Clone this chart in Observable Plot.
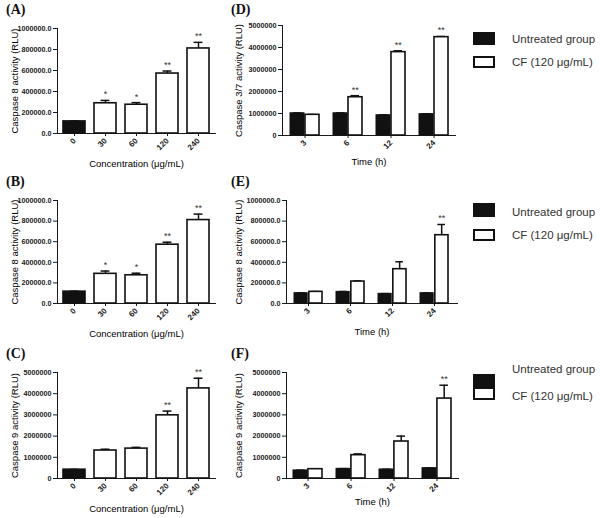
<!DOCTYPE html>
<html>
<head>
<meta charset="utf-8">
<script src="https://cdn.jsdelivr.net/npm/d3@7"></script>
<script src="https://cdn.jsdelivr.net/npm/@observablehq/plot@0.6"></script>
<style>
  body { margin: 0; background: #fff; }
  #root { position: relative; width: 600px; height: 518px; background: #fff; overflow: hidden; }
  .panel { position: absolute; }
  .plabel { position: absolute; font-family: "Liberation Serif", "Times New Roman", serif; font-weight: bold; font-size: 14px; color: #111; line-height: 1; }
  .lg-sw { position: absolute; box-sizing: border-box; }
  .lg-tx { position: absolute; font-family: "Liberation Sans", Arial, sans-serif; font-size: 11.5px; color: #333; line-height: 1; white-space: nowrap; }
</style>
</head>
<body>
<div id="root"></div>
<script>
// ---------------- data ----------------
const concLabels = ["0", "30", "60", "120", "240"];
const timeLabels = ["3", "6", "12", "24"];
const legendLabels = ["Untreated group", "CF (120 μg/mL)"];

const ticks1M = [0, 200000, 400000, 600000, 800000, 1000000];
const ticks5M = [0, 1000000, 2000000, 3000000, 4000000, 5000000];

// (A) and (B): caspase 8 vs concentration
const casp8ConcMean = [115000, 288000, 274000, 571000, 810000];
const casp8ConcErr  = [4000, 27000, 20000, 24000, 58000];
const casp8ConcSig  = ["", "*", "*", "**", "**"];

// (C): caspase 9 vs concentration
const casp9ConcMean = [415000, 1320000, 1410000, 2980000, 4250000];
const casp9ConcErr  = [15000, 60000, 60000, 200000, 480000];
const casp9ConcSig  = ["", "", "", "**", "**"];

// (D): caspase 3/7 vs time
const casp37Untreated    = [1010000, 1010000, 920000, 970000];
const casp37UntreatedErr = [15000, 15000, 20000, 15000];
const casp37CF           = [940000, 1740000, 3790000, 4470000];
const casp37CFErr        = [15000, 70000, 60000, 30000];
const casp37Sig          = ["", "**", "**", "**"];

// (E): caspase 8 vs time
const casp8TimeUntreated    = [100000, 113000, 94000, 100000];
const casp8TimeUntreatedErr = [3000, 3000, 2000, 2000];
const casp8TimeCF           = [113000, 213000, 333000, 663000];
const casp8TimeCFErr        = [3000, 6000, 72000, 104000];
const casp8TimeSig          = ["", "", "", "**"];

// (F): caspase 9 vs time
const casp9TimeUntreated    = [380000, 456000, 425000, 487000];
const casp9TimeUntreatedErr = [10000, 10000, 10000, 10000];
const casp9TimeCF           = [440000, 1100000, 1745000, 3770000];
const casp9TimeCFErr        = [10000, 60000, 255000, 630000];
const casp9TimeSig          = ["", "", "", "**"];

// ---------------- helpers ----------------
const root = document.getElementById("root");
const FONT = "'Liberation Sans', Arial, Helvetica, sans-serif";
const INK = "#111";

function place(el, left, top) {
  // slightly larger rotated category tick labels
  el.querySelectorAll('[aria-label^="x-axis"] text').forEach(t => { t.style.fontSize = "8px"; });
  const wrap = document.createElement("div");
  wrap.className = "panel";
  wrap.style.left = left + "px";
  wrap.style.top = top + "px";
  wrap.appendChild(el);
  root.appendChild(wrap);
}

function baseStyle() {
  return {fontFamily: FONT, fontSize: "7.2px", fontWeight: "bold", color: "#1a1a1a", background: "transparent", overflow: "visible"};
}

function titles(o) {
  return [
    Plot.text([o.yTitle], {text: d => d, frameAnchor: "left", rotate: -90, dx: o.ydx, textAnchor: "middle", lineAnchor: "middle", fontSize: 9.5, fontWeight: "normal", fill: "#000"}),
    Plot.text([o.xTitle], {text: d => d, frameAnchor: "bottom", dy: o.xdy, textAnchor: "middle", lineAnchor: "middle", fontSize: 9.5, fontWeight: "normal", fill: "#000"})
  ];
}

function concPanel(o) {
  const rows = concLabels.map((c, i) => ({c, v: o.mean[i], e: o.err[i], s: o.sig[i], top: o.mean[i] + o.err[i]}));
  const pi = 0.3;
  const step = (o.width - o.mL - o.mR) / concLabels.length;
  const bw = step * (1 - pi);
  const cap = (bw - 9) / 2;
  return Plot.plot({
    width: o.width, height: o.height,
    marginLeft: o.mL, marginRight: o.mR, marginTop: o.mT, marginBottom: o.mB,
    style: baseStyle(),
    x: {domain: concLabels, paddingInner: pi, paddingOuter: pi / 2, label: null, tickRotate: -45, tickSize: 3, tickPadding: 3, line: true},
    y: {domain: [0, o.yMax], ticks: o.ticks, tickFormat: o.fmt, label: null, tickSize: 4, tickPadding: 2, line: true},
    marks: [
      Plot.ruleX(rows, {x: "c", y1: "v", y2: "top", stroke: INK, strokeWidth: 1.5}),
      Plot.tickY(rows, {x: "c", y: "top", stroke: INK, strokeWidth: 1.5, insetLeft: cap, insetRight: cap}),
      Plot.barY(rows, {x: "c", y: "v", fill: d => d.c === concLabels[0] ? INK : "white", stroke: INK, strokeWidth: 1.6}),
      Plot.text(rows.filter(d => d.s), {x: "c", y: "top", text: "s", dy: -6, fontSize: 9, fontWeight: "normal", fill: "#333"}),
      ...titles(o)
    ]
  });
}

function timePanel(o) {
  const rows = timeLabels.map((t, i) => ({
    t, u: o.u[i], ue: o.ue[i], utop: o.u[i] + o.ue[i],
    c: o.c[i], ce: o.ce[i], ctop: o.c[i] + o.ce[i], s: o.sig[i]
  }));
  const pi = 0.33;
  const step = (o.width - o.mL - o.mR) / timeLabels.length;
  const bw = step * (1 - pi);
  const half = bw / 2;
  const off = half / 2;
  return Plot.plot({
    width: o.width, height: o.height,
    marginLeft: o.mL, marginRight: o.mR, marginTop: o.mT, marginBottom: o.mB,
    style: baseStyle(),
    x: {domain: timeLabels, paddingInner: pi, paddingOuter: pi / 2, label: null, tickRotate: -45, tickSize: 3, tickPadding: 3, line: true},
    y: {domain: [0, o.yMax], ticks: o.ticks, tickFormat: o.fmt, label: null, tickSize: 4, tickPadding: 2, line: true},
    marks: [
      // untreated (black, left half of each group)
      Plot.ruleX(rows, {x: "t", y1: "u", y2: "utop", dx: -off, stroke: INK, strokeWidth: 1.5}),
      Plot.tickY(rows, {x: "t", y: "utop", stroke: INK, strokeWidth: 1.5, insetLeft: 3, insetRight: half + 3}),
      Plot.barY(rows, {x: "t", y: "u", fill: INK, stroke: INK, strokeWidth: 1, insetRight: half + 0.5}),
      // CF (white, right half)
      Plot.ruleX(rows, {x: "t", y1: "c", y2: "ctop", dx: off, stroke: INK, strokeWidth: 1.5}),
      Plot.tickY(rows, {x: "t", y: "ctop", stroke: INK, strokeWidth: 1.5, insetLeft: half + 3, insetRight: 3}),
      Plot.barY(rows, {x: "t", y: "c", fill: "white", stroke: INK, strokeWidth: 1.6, insetLeft: half + 0.5}),
      Plot.text(rows.filter(d => d.s), {x: "t", y: "ctop", text: "s", dx: off, dy: -6, fontSize: 9, fontWeight: "normal", fill: "#333"}),
      ...titles(o)
    ]
  });
}

const fmt1 = d => d.toFixed(1);
const fmt0 = d => String(d);

// ---------------- panels ----------------
place(concPanel({mean: casp8ConcMean, err: casp8ConcErr, sig: casp8ConcSig, yMax: 1000000, ticks: ticks1M, fmt: fmt1,
  yTitle: "Caspase 8 activity (RLU)", xTitle: "Concentration (μg/mL)",
  width: 230, height: 170, mL: 57, mR: 15, mT: 28, mB: 37, ydx: -43, xdy: 30}), 0, 0);

place(concPanel({mean: casp8ConcMean, err: casp8ConcErr, sig: casp8ConcSig, yMax: 1000000, ticks: ticks1M, fmt: fmt1,
  yTitle: "Caspase 8 activity (RLU)", xTitle: "Concentration (μg/mL)",
  width: 230, height: 170, mL: 57, mR: 15, mT: 30, mB: 37, ydx: -43, xdy: 30}), 0, 170);

place(concPanel({mean: casp9ConcMean, err: casp9ConcErr, sig: casp9ConcSig, yMax: 5000000, ticks: ticks5M, fmt: fmt0,
  yTitle: "Caspase 9 activity (RLU)", xTitle: "Concentration (μg/mL)",
  width: 230, height: 173, mL: 57, mR: 15, mT: 27, mB: 40, ydx: -43, xdy: 30}), 0, 345);

place(timePanel({u: casp37Untreated, ue: casp37UntreatedErr, c: casp37CF, ce: casp37CFErr, sig: casp37Sig,
  yMax: 5000000, ticks: ticks5M, fmt: fmt0,
  yTitle: "Caspase 3/7 activity (RLU)", xTitle: "Time (h)",
  width: 240, height: 170, mL: 57, mR: 10, mT: 25, mB: 35, ydx: -44, xdy: 26}), 225, 0);

place(timePanel({u: casp8TimeUntreated, ue: casp8TimeUntreatedErr, c: casp8TimeCF, ce: casp8TimeCFErr, sig: casp8TimeSig,
  yMax: 1000000, ticks: ticks1M, fmt: fmt1,
  yTitle: "Caspase 8 activity (RLU)", xTitle: "Time (h)",
  width: 240, height: 170, mL: 61, mR: 8, mT: 30, mB: 37, ydx: -48, xdy: 28}), 225, 170);

place(timePanel({u: casp9TimeUntreated, ue: casp9TimeUntreatedErr, c: casp9TimeCF, ce: casp9TimeCFErr, sig: casp9TimeSig,
  yMax: 5000000, ticks: ticks5M, fmt: fmt0,
  yTitle: "Caspase 9 activity (RLU)", xTitle: "Time (h)",
  width: 240, height: 173, mL: 61, mR: 7, mT: 27, mB: 40, ydx: -48, xdy: 23}), 225, 345);

// ---------------- panel letters ----------------
[["(A)", 6, 3], ["(D)", 231, 3], ["(B)", 6, 175], ["(E)", 231, 175], ["(C)", 6, 347], ["(F)", 231, 347]].forEach(([t, x, y]) => {
  const d = document.createElement("div");
  d.className = "plabel";
  d.textContent = t;
  d.style.left = x + "px";
  d.style.top = y + "px";
  root.appendChild(d);
});

// ---------------- legends ----------------
function legend(sw1Top, sw1H, sw2Top, sw2H, tx1Mid, tx2Mid) {
  const s1 = document.createElement("div");
  s1.className = "lg-sw";
  Object.assign(s1.style, {left: "473px", top: sw1Top + "px", width: "22px", height: sw1H + "px", background: INK});
  const s2 = document.createElement("div");
  s2.className = "lg-sw";
  Object.assign(s2.style, {left: "473px", top: sw2Top + "px", width: "22px", height: sw2H + "px", background: "#fff", border: "2px solid " + INK});
  root.appendChild(s1);
  root.appendChild(s2);
  [[legendLabels[0], tx1Mid], [legendLabels[1], tx2Mid]].forEach(([t, m]) => {
    const d = document.createElement("div");
    d.className = "lg-tx";
    d.textContent = t;
    d.style.left = "512px";
    d.style.top = (m - 6.5) + "px";
    root.appendChild(d);
  });
}
legend(32, 13, 56, 12, 40, 63);
legend(203, 14, 229, 12, 213, 236);
legend(374, 13, 387, 13, 370, 397);
</script>
</body>
</html>
